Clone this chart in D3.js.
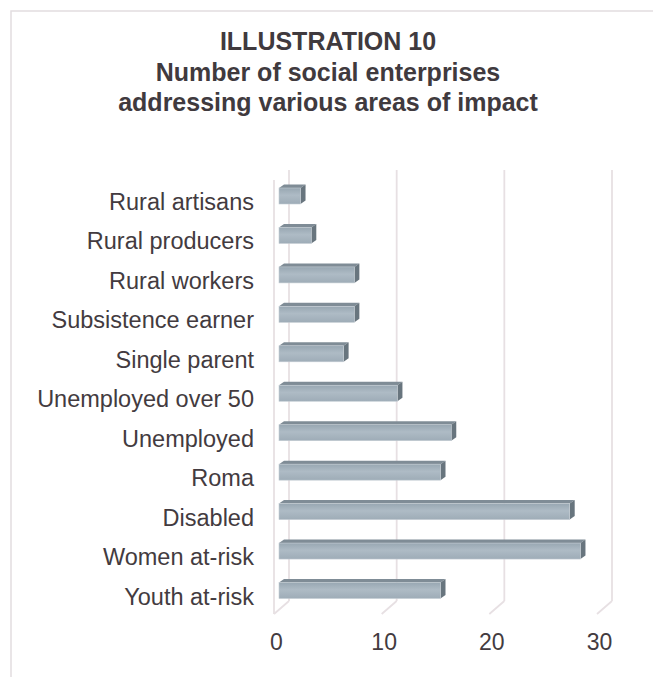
<!DOCTYPE html>
<html><head><meta charset="utf-8">
<script src="https://cdn.jsdelivr.net/npm/d3@7/dist/d3.min.js"></script>
<style>body{margin:0;background:#fff}svg{display:block}</style>
</head><body><svg id="c" width="653" height="677"></svg>
<script>
const titleLines = ["ILLUSTRATION 10", "Number of social enterprises", "addressing various areas of impact"];
const categories = ["Rural artisans", "Rural producers", "Rural workers", "Subsistence earner", "Single parent", "Unemployed over 50", "Unemployed", "Roma", "Disabled", "Women at-risk", "Youth at-risk"];
const values = [2, 3, 7, 7, 6, 11, 16, 15, 27, 28, 15];
const tickValues = [0, 10, 20, 30];

const svg = d3.select("#c");
const font = "'Liberation Sans', Arial, sans-serif";
const textColor = "#433b40";

// gradients
const defs = svg.append("defs");
const g1 = defs.append("linearGradient").attr("id","front").attr("x1",0).attr("y1",0).attr("x2",0).attr("y2",1);
g1.append("stop").attr("offset","0%").attr("stop-color","#98a7b2");
g1.append("stop").attr("offset","45%").attr("stop-color","#aebbc5");
g1.append("stop").attr("offset","100%").attr("stop-color","#9eacb7");

// chart border
svg.append("rect").attr("x",11).attr("y",11).attr("width",700).attr("height",700)
  .attr("fill","none").attr("stroke","#e2dde0").attr("stroke-width",1.5);

// title
svg.append("g").selectAll("text").data(titleLines).join("text")
  .attr("x",328).attr("y",(d,i)=>50 + i*30.5)
  .attr("text-anchor","middle").attr("font-family",font).attr("font-weight","bold")
  .attr("font-size",25).attr("fill","#403a3e").text(d=>d);

// scales
const xBack = d3.scaleLinear().domain([0,30]).range([289,612]);
const xFloor = d3.scaleLinear().domain([0,30]).range([274,597]);
const xBar = d3.scaleLinear().domain([0,30]).range([279,602]);
const y = d3.scalePoint().domain(categories).range([196,590.5]);

const gridColor = "#e7e0e3";
const grid = svg.append("g").attr("stroke",gridColor).attr("stroke-width",1.8).attr("fill","none");
// left wall front edge
grid.append("line").attr("x1",xFloor(0)).attr("x2",xFloor(0)).attr("y1",180).attr("y2",614);
// back wall gridlines
grid.selectAll("line.v").data(tickValues).join("line").attr("class","v")
  .attr("x1",d=>xBack(d)).attr("x2",d=>xBack(d)).attr("y1",170).attr("y2",601);
// floor diagonals
grid.selectAll("line.d").data(tickValues).join("line").attr("class","d")
  .attr("x1",d=>xBack(d)).attr("x2",d=>xFloor(d)).attr("y1",601).attr("y2",614);

// bars
const h = 16, dx = 5, dy = 3.5;
const bars = svg.append("g").selectAll("g").data(categories.map((c,i)=>({c, v: values[i]}))).join("g");
bars.append("polygon").attr("fill","#7f8c96").attr("points",d=>{
  const x0 = xBar(0), xv = xBar(d.v), yt = y(d.c) - h/2;
  return [[x0,yt],[xv,yt],[xv+dx,yt-dy],[x0+dx,yt-dy]].join(" ");
});
bars.append("polygon").attr("fill","#68757e").attr("points",d=>{
  const xv = xBar(d.v), yt = y(d.c) - h/2;
  return [[xv,yt],[xv+dx,yt-dy],[xv+dx,yt+h-dy],[xv,yt+h]].join(" ");
});
bars.append("rect").attr("x",xBar(0)).attr("y",d=>y(d.c)-h/2)
  .attr("width",d=>xBar(d.v)-xBar(0)).attr("height",h)
  .attr("fill","url(#front)").attr("stroke","#c3ccd3").attr("stroke-width",0.6);

// category labels
svg.append("g").selectAll("text").data(categories).join("text")
  .attr("x",254).attr("y",d=>y(d)+14).attr("text-anchor","end")
  .attr("font-family",font).attr("font-size",23.5).attr("fill",textColor).text(d=>d);

// tick labels
svg.append("g").selectAll("text").data(tickValues).join("text")
  .attr("x",d=>xFloor(d)+2.5).attr("y",650).attr("text-anchor","middle")
  .attr("font-family",font).attr("font-size",23).attr("fill",textColor).text(d=>d);
</script></body></html>
